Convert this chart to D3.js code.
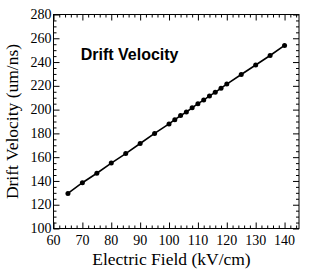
<!DOCTYPE html>
<html>
<head>
<meta charset="utf-8">
<script src="https://cdn.jsdelivr.net/npm/d3@7"></script>
<style>
  body { margin: 0; background: #fff; }
  svg { display: block; }
  .serif { font-family: "Liberation Serif", "Times New Roman", Times, "DejaVu Serif", serif; }
</style>
</head>
<body>
<script>
// attributes of the canvas area
var margin = {top: 14.5, right: 17, bottom: 44.5, left: 53.5},
    width = 316 - margin.left - margin.right,
    height = 273 - margin.top - margin.bottom;

// drift velocity measurements
let field = [65, 70, 75, 80, 85, 90, 95, 100, 102, 104, 106, 108, 110, 112, 114, 116, 118, 120, 125, 130, 135, 140];
let velocity = [129.5, 138.5, 146.5, 155, 163, 171.5, 180, 188, 191.5, 195, 198, 201.5, 205, 208, 211.5, 214.5, 218, 221.5, 229.5, 237.5, 245.5, 254];

let xMajor = [60, 70, 80, 90, 100, 110, 120, 130, 140];
let yMajor = [100, 120, 140, 160, 180, 200, 220, 240, 260, 280];

var data = field.map(function(f, i) { return {e: f, v: velocity[i]}; });

var svg = d3.select("body").append("svg")
    .attr("width", 316)
    .attr("height", 273)
  .append("g")
    .attr("transform", "translate(" + margin.left + "," + margin.top + ")");

var x = d3.scaleLinear().domain([60, 145]).range([0, width]);
var y = d3.scaleLinear().domain([100, 280]).range([height, 0]);

var xMinor = d3.range(60, 145, 2).filter(function(d) { return d % 10 != 0; });
var yMinor = d3.range(100, 280, 5).filter(function(d) { return d % 20 != 0; });

// inward ticks on all four sides (major + minor)
function ticks(axisFn, vals, size, tr) {
  svg.append("g")
      .attr("transform", tr)
      .call(axisFn.tickValues(vals).tickSizeInner(size).tickSizeOuter(0).tickFormat(""))
      .call(function(g) { g.select(".domain").remove(); })
      .selectAll("line").attr("stroke", "#000").attr("stroke-width", 1);
}
ticks(d3.axisBottom(x), xMajor, -6, "translate(0," + height + ")");
ticks(d3.axisBottom(x), xMinor, -3, "translate(0," + height + ")");
ticks(d3.axisTop(x), xMajor, -6, "translate(0,0)");
ticks(d3.axisTop(x), xMinor, -3, "translate(0,0)");
ticks(d3.axisLeft(y), yMajor, -6, "translate(0,0)");
ticks(d3.axisLeft(y), yMinor, -3, "translate(0,0)");
ticks(d3.axisRight(y), yMajor, -6, "translate(" + width + ",0)");
ticks(d3.axisRight(y), yMinor, -3, "translate(" + width + ",0)");

// frame
svg.append("rect")
    .attr("width", width)
    .attr("height", height)
    .attr("fill", "none")
    .attr("stroke", "#000")
    .attr("stroke-width", 1);

// tick labels
svg.selectAll(".xlab")
    .data(xMajor)
  .enter().append("text")
    .attr("class", "serif")
    .attr("x", function(d) { return x(d); })
    .attr("y", height + 16)
    .attr("font-size", 14)
    .style("text-anchor", "middle")
    .text(function(d) { return d; });

svg.selectAll(".ylab")
    .data(yMajor)
  .enter().append("text")
    .attr("class", "serif")
    .attr("x", -2)
    .attr("y", function(d) { return y(d); })
    .attr("dy", "0.33em")
    .attr("font-size", 14)
    .style("text-anchor", "end")
    .text(function(d) { return d; });

// axis titles
svg.append("text")
    .attr("class", "serif")
    .attr("x", 118)
    .attr("y", height + 36.5)
    .attr("font-size", 17.5)
    .style("text-anchor", "middle")
    .text("Electric Field (kV/cm)");

svg.append("text")
    .attr("class", "serif")
    .attr("transform", "rotate(-90)")
    .attr("x", -height / 2)
    .attr("y", -36)
    .attr("font-size", 17.5)
    .style("text-anchor", "middle")
    .text("Drift Velocity (um/ns)");

// title inside the frame
svg.append("text")
    .attr("x", 27.2)
    .attr("y", 45.5)
    .attr("font-family", "'Liberation Sans', Arial, sans-serif")
    .attr("font-weight", "bold")
    .attr("font-size", 16)
    .text("Drift Velocity");

// line + markers
var line = d3.line()
    .x(function(d) { return x(d.e); })
    .y(function(d) { return y(d.v); });

svg.append("path")
    .datum(data)
    .attr("d", line)
    .attr("fill", "none")
    .attr("stroke", "#000")
    .attr("stroke-width", 1.6);

svg.selectAll(".pt")
    .data(data)
  .enter().append("circle")
    .attr("cx", function(d) { return x(d.e); })
    .attr("cy", function(d) { return y(d.v); })
    .attr("r", 2.5)
    .attr("fill", "#000");
</script>
</body>
</html>
